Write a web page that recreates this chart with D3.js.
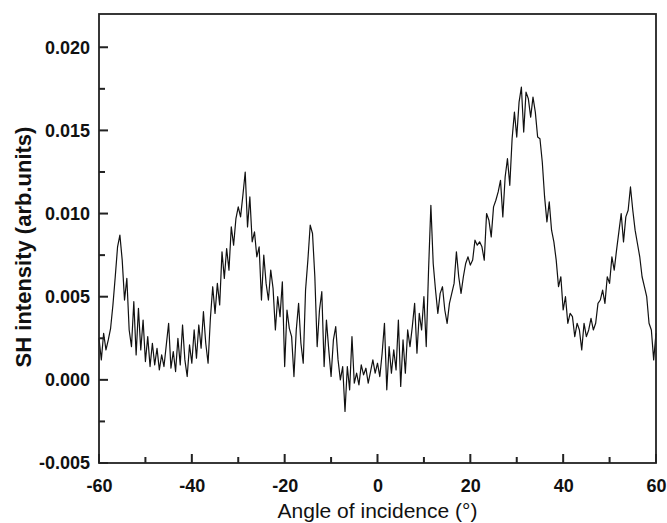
<!DOCTYPE html>
<html>
<head>
<meta charset="utf-8">
<script src="https://cdn.jsdelivr.net/npm/d3@7"></script>
<style>
  html, body { margin: 0; padding: 0; background: #fff; }
  #chart { width: 667px; height: 523px; }
  .tick-label { font-family: "Liberation Sans", Arial, sans-serif; font-weight: bold; font-size: 18px; fill: #111; }
  .axis-title { font-family: "Liberation Sans", Arial, sans-serif; fill: #111; }
</style>
</head>
<body>
<div id="chart"></div>
<script>
// angle of incidence (deg)
const angles = [
  -60,-59.5,-59,-58.5,-58,-57.5,-57,-56.5,-56,-55.5,-55,-54.5,-54,-53.5,-53,-52.5,-52,-51.5,-51,-50.5,
  -50,-49.5,-49,-48.5,-48,-47.5,-47,-46.5,-46,-45.5,-45,-44.5,-44,-43.5,-43,-42.5,-42,-41.5,-41,-40.5,
  -40,-39.5,-39,-38.5,-38,-37.5,-37,-36.5,-36,-35.5,-35,-34.5,-34,-33.5,-33,-32.5,-32,-31.5,-31,-30.5,
  -30,-29.5,-29,-28.5,-28,-27.5,-27,-26.5,-26,-25.5,-25,-24.5,-24,-23.5,-23,-22.5,-22,-21.5,-21,-20.5,
  -20,-19.5,-19,-18.5,-18,-17.5,-17,-16.5,-16,-15.5,-15,-14.5,-14,-13.5,-13,-12.5,-12,-11.5,-11,-10.5,
  -10,-9.5,-9,-8.5,-8,-7.5,-7,-6.5,-6,-5.5,-5,-4.5,-4,-3.5,-3,-2.5,-2,-1.5,-1,-0.5,
  0,0.5,1,1.5,2,2.5,3,3.5,4,4.5,5,5.5,6,6.5,7,7.5,8,8.5,9,9.5,
  10,10.5,11,11.5,12,12.5,13,13.5,14,14.5,15,15.5,16,16.5,17,17.5,18,18.5,19,19.5,
  20,20.5,21,21.5,22,22.5,23,23.5,24,24.5,25,25.5,26,26.5,27,27.5,28,28.5,29,29.5,
  30,30.5,31,31.5,32,32.5,33,33.5,34,34.5,35,35.5,36,36.5,37,37.5,38,38.5,39,39.5,
  40,40.5,41,41.5,42,42.5,43,43.5,44,44.5,45,45.5,46,46.5,47,47.5,48,48.5,49,49.5,
  50,50.5,51,51.5,52,52.5,53,53.5,54,54.5,55,55.5,56,56.5,57,57.5,58,58.5,59,59.5,
  60
];
// SH intensity (arb. units)
const intensity = [
  0.0025,0.0012,0.0028,0.0018,0.0024,0.0031,0.0045,0.0062,0.0080,0.0087,0.0072,0.0048,0.0061,0.0030,0.0020,0.0047,0.0015,0.0043,0.0018,0.0036,
  0.0011,0.0026,0.0008,0.0022,0.0009,0.0019,0.0006,0.0015,0.0008,0.0021,0.0034,0.0007,0.0017,0.0005,0.0025,0.0009,0.0033,0.0012,0.0002,0.0021,
  0.0010,0.0030,0.0013,0.0033,0.0019,0.0041,0.0022,0.0010,0.0037,0.0056,0.0040,0.0058,0.0045,0.0077,0.0061,0.0079,0.0066,0.0092,0.0081,0.0097,
  0.0104,0.0098,0.0111,0.0125,0.0092,0.0110,0.0083,0.0089,0.0074,0.0080,0.0048,0.0075,0.0058,0.0048,0.0066,0.0055,0.0030,0.0050,0.0038,0.0059,
  0.0008,0.0042,0.0031,0.0026,0.0002,0.0030,0.0046,0.0022,0.0010,0.0054,0.0072,0.0093,0.0088,0.0062,0.0020,0.0042,0.0053,0.0008,0.0036,0.0018,
  0.0002,0.0024,0.0032,0.0012,0.0000,0.0008,-0.0019,0.0008,-0.0006,0.0026,-0.0002,0.0004,-0.0003,0.0009,0.0003,0.0007,-0.0002,0.0005,0.0012,0.0004,
  0.0010,0.0002,0.0016,0.0034,-0.0006,0.0020,0.0004,0.0018,0.0006,0.0036,-0.0004,0.0024,0.0004,0.0030,0.0020,0.0032,0.0046,0.0016,0.0040,0.0030,
  0.0050,0.0020,0.0066,0.0105,0.0070,0.0054,0.0040,0.0052,0.0056,0.0042,0.0034,0.0046,0.0052,0.0058,0.0077,0.0062,0.0052,0.0062,0.0070,0.0074,
  0.0069,0.0072,0.0084,0.0081,0.0083,0.0080,0.0072,0.0100,0.0096,0.0086,0.0104,0.0108,0.0113,0.0120,0.0098,0.0122,0.0133,0.0117,0.0145,0.0161,
  0.0146,0.0167,0.0176,0.0149,0.0173,0.0169,0.0158,0.0170,0.0161,0.0146,0.0145,0.0131,0.0110,0.0095,0.0107,0.0090,0.0083,0.0072,0.0056,0.0062,
  0.0042,0.0050,0.0034,0.0040,0.0038,0.0026,0.0034,0.0030,0.0018,0.0034,0.0026,0.0030,0.0037,0.0030,0.0034,0.0046,0.0048,0.0054,0.0046,0.0062,
  0.0058,0.0074,0.0066,0.0078,0.0089,0.0100,0.0083,0.0098,0.0102,0.0116,0.0102,0.0090,0.0082,0.0074,0.0062,0.0056,0.0050,0.0034,0.0030,0.0012,
  0.0028
];
const xMajorTicks = [-60, -40, -20, 0, 20, 40, 60];
const xMinorTicks = [-50, -30, -10, 10, 30, 50];
const yMajorTicks = [-0.005, 0.000, 0.005, 0.010, 0.015, 0.020];
const yMinorTicks = [-0.0025, 0.0025, 0.0075, 0.0125, 0.0175];
const xDomain = [-60, 60];
const yDomain = [-0.005, 0.022];

const width = 667, height = 523;
const margin = {top: 14, right: 11, bottom: 60, left: 99};
const innerW = width - margin.left - margin.right;
const innerH = height - margin.top - margin.bottom;

const svg = d3.select("#chart")
  .append("svg")
  .attr("width", width)
  .attr("height", height);

const x = d3.scaleLinear().domain(xDomain).range([0, innerW]);
const y = d3.scaleLinear().domain(yDomain).range([innerH, 0]);

const g = svg.append("g")
  .attr("transform", "translate(" + margin.left + "," + margin.top + ")");

// plain hyphen for negatives, like the original
const fmtX = d => (d < 0 ? "-" : "") + Math.abs(d);
const fmtY = d => (d < 0 ? "-" : "") + d3.format(".3f")(Math.abs(d));

// data line
const points = angles.map((a, i) => [a, intensity[i]]);
g.append("path")
  .datum(points)
  .attr("fill", "none")
  .attr("stroke", "#111")
  .attr("stroke-width", 1.2)
  .attr("stroke-linejoin", "round")
  .attr("d", d3.line().x(d => x(d[0])).y(d => y(d[1])));

// frame
g.append("rect")
  .attr("x", 0).attr("y", 0)
  .attr("width", innerW).attr("height", innerH)
  .attr("fill", "none")
  .attr("stroke", "#222")
  .attr("stroke-width", 1.8);

// tick labels from the axes
g.append("g").attr("transform", "translate(0," + innerH + ")")
  .call(d3.axisBottom(x).tickValues(xMajorTicks).tickSize(0).tickPadding(16).tickFormat(fmtX));
g.append("g")
  .call(d3.axisLeft(y).tickValues(yMajorTicks).tickSize(0).tickPadding(9).tickFormat(fmtY));
g.selectAll(".domain").remove();
g.selectAll(".tick line").remove();
g.selectAll(".tick text")
  .attr("class", "tick-label")
  .attr("font-family", null).attr("font-size", null).attr("fill", null);

// inward tick marks, as small filled bars
const tickG = g.append("g").attr("fill", "#222");
const xTicks = xMajorTicks.map(v => ({v: v, len: 9})).concat(xMinorTicks.map(v => ({v: v, len: 6})));
const yTicks = yMajorTicks.map(v => ({v: v, len: 9})).concat(yMinorTicks.map(v => ({v: v, len: 6})));
tickG.selectAll("rect.xt").data(xTicks).join("rect")
  .attr("class", "xt")
  .attr("x", d => x(d.v) - 1)
  .attr("y", d => innerH - d.len)
  .attr("width", 2)
  .attr("height", d => d.len);
tickG.selectAll("rect.yt").data(yTicks).join("rect")
  .attr("class", "yt")
  .attr("x", 0)
  .attr("y", d => y(d.v) - 1)
  .attr("width", d => d.len)
  .attr("height", 2);

// axis titles
svg.append("text")
  .attr("class", "axis-title")
  .attr("font-size", 21)
  .attr("x", margin.left + innerW / 2)
  .attr("y", 518)
  .attr("text-anchor", "middle")
  .text("Angle of incidence (°)");

svg.append("text")
  .attr("class", "axis-title")
  .attr("font-size", 22)
  .attr("font-weight", "bold")
  .attr("transform", "translate(31,247) rotate(-90)")
  .attr("text-anchor", "middle")
  .text("SH intensity (arb.units)");
</script>
</body>
</html>
